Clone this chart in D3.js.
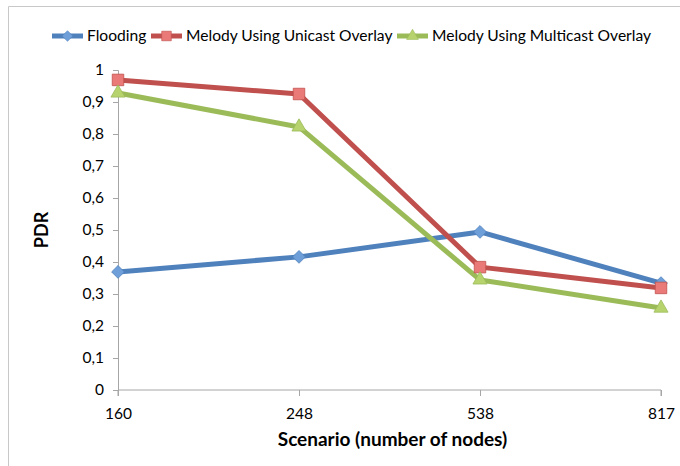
<!DOCTYPE html>
<html>
<head>
<meta charset="utf-8">
<script src="https://cdn.jsdelivr.net/npm/d3@7"></script>
<style>
  body { margin: 0; background: #fff; }
  text { font-family: Lato, "Open Sans", sans-serif; fill: #000; }
</style>
</head>
<body>
<div id="chart"></div>
<script>
var categories = ["160", "248", "538", "817"];
var flooding = [0.369, 0.416, 0.494, 0.334];
var unicast = [0.969, 0.925, 0.384, 0.319];
var multicast = [0.928, 0.822, 0.344, 0.256];
var yTicks = [0, 0.1, 0.2, 0.3, 0.4, 0.5, 0.6, 0.7, 0.8, 0.9, 1];

var series = [
    { name: "Flooding", values: flooding, color: "#4f81bd", fill: "#6f9fd8", marker: "diamond" },
    { name: "Melody Using Unicast Overlay", values: unicast, color: "#c0504d", fill: "#ea7a77", marker: "square" },
    { name: "Melody Using Multicast Overlay", values: multicast, color: "#9bbb59", fill: "#b7d36e", marker: "triangle" }
];

var w = 680, h = 466;
var mLeft = 118, mRight = 661, mTop = 70, mBottom = 390;

var svg = d3.select("#chart").append("svg")
    .attr("width", w)
    .attr("height", h);

// chart frame (only left and top edges show)
svg.append("path")
    .attr("d", "M8.5,470V6.5H690")
    .attr("fill", "none")
    .attr("stroke", "#c8c8c8")
    .attr("stroke-width", 1);

var x = d3.scalePoint().domain(categories).range([mLeft, mRight]);
var y = d3.scaleLinear().domain([0, 1]).range([mBottom, mTop]);

var fmt = function (d) { return d3.format(".1f")(d).replace(".", ",").replace(/^0,0$/, "0").replace(/^1,0$/, "1"); };

var yAxis = svg.append("g")
    .attr("transform", "translate(" + mLeft + ",0)")
    .call(d3.axisLeft(y).tickValues(yTicks).tickSize(5).tickPadding(9).tickFormat(fmt));
yAxis.selectAll("text").attr("font-size", "15.5px");

var xAxis = svg.append("g")
    .attr("transform", "translate(0," + mBottom + ")")
    .call(d3.axisBottom(x).tickSize(6).tickPadding(12));
xAxis.selectAll("text").attr("font-size", "15.5px");
xAxis.select(".domain").attr("d", "M" + mLeft + ",6V0H" + mRight + "V6");

svg.selectAll(".domain, .tick line").attr("stroke", "#a6a6a6");

function markerPath(type, s) {
    if (type === "diamond") return d3.symbol().type(d3.symbolDiamond2).size(s * 8)();
    if (type === "square") return d3.symbol().type(d3.symbolSquare2).size(s * 13)();
    return d3.symbol().type(d3.symbolTriangle2).size(s * 11)();
}

var line = d3.line()
    .x(function (d, i) { return x(categories[i]); })
    .y(function (d) { return y(d); });

series.forEach(function (s) {
    svg.append("path")
        .datum(s.values)
        .attr("d", line)
        .attr("fill", "none")
        .attr("stroke", s.color)
        .attr("stroke-width", 5)
        .attr("stroke-linejoin", "round");
});

series.forEach(function (s) {
    svg.selectAll(null)
        .data(s.values)
        .enter()
        .append("path")
        .attr("d", markerPath(s.marker, 13))
        .attr("transform", function (d, i) { return "translate(" + x(categories[i]) + "," + y(d) + ")"; })
        .attr("fill", s.fill)
        .attr("stroke", s.color)
        .attr("stroke-width", 0.8);
});

// legend
var legendX = [52, 151, 397];
series.forEach(function (s, i) {
    var g = svg.append("g").attr("transform", "translate(" + legendX[i] + ",36)");
    g.append("line")
        .attr("x1", 0).attr("x2", 31)
        .attr("stroke", s.color)
        .attr("stroke-width", 5);
    g.append("path")
        .attr("d", markerPath(s.marker, 9))
        .attr("transform", "translate(15.5,0)")
        .attr("fill", s.fill)
        .attr("stroke", s.color)
        .attr("stroke-width", 0.6);
    g.append("text")
        .attr("x", 35)
        .attr("dy", "0.35em")
        .attr("font-size", "15.6px")
        .text(s.name);
});

svg.append("text")
    .attr("text-anchor", "middle")
    .attr("x", (mLeft + mRight) / 2 + 3)
    .attr("y", 446)
    .attr("font-size", "19px")
    .attr("font-weight", "bold")
    .text("Scenario (number of nodes)");

svg.append("text")
    .attr("text-anchor", "middle")
    .attr("transform", "translate(48," + ((mTop + mBottom) / 2) + ") rotate(-90)")
    .attr("font-size", "18px")
    .attr("font-weight", "bold")
    .text("PDR");
</script>
</body>
</html>
